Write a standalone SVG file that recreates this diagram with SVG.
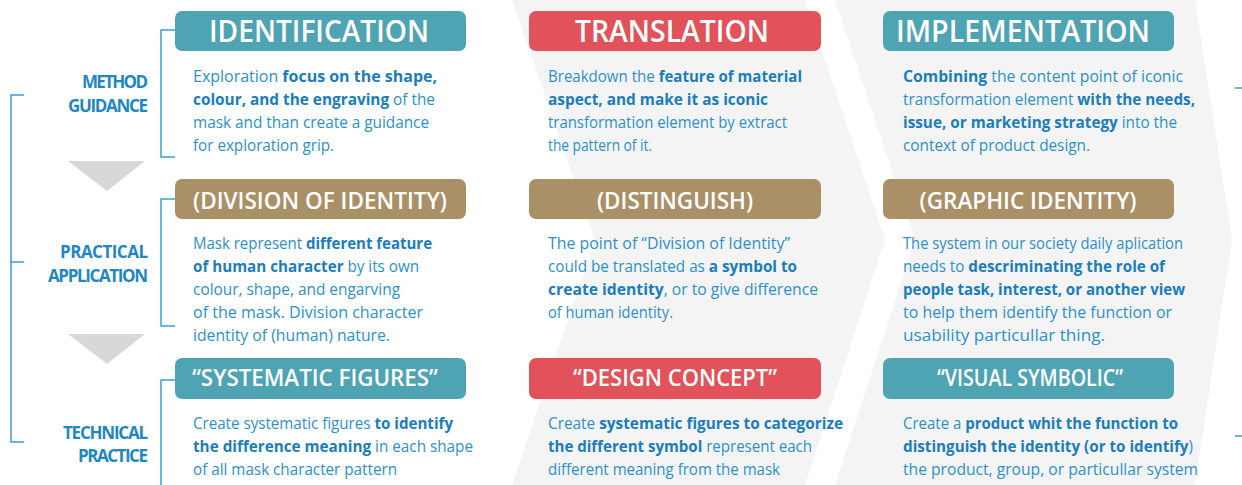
<svg xmlns="http://www.w3.org/2000/svg" width="1242" height="485" viewBox="0 0 1242 485">
<defs>
<style>
.bg{fill:#f4f4f5}
.br{fill:none;stroke:#3c9fcf;stroke-width:1.5}
.arr{fill:#d8d8d8}
.lbl{font-family:"Open Sans","Liberation Sans",sans-serif;font-weight:700;font-size:17px;fill:#1f87c3;text-anchor:end}
.hd{font-family:"Open Sans","Liberation Sans",sans-serif;font-weight:600;fill:#ffffff;text-anchor:middle}
.h1{font-size:30px}
.h2{font-size:24px}
.teal{fill:#4fa4b4}
.red{fill:#e1525a}
.tan{fill:#aa9067}
.tx{font-family:"Open Sans","Liberation Sans",sans-serif;font-size:16px;fill:#2b91c9}
.b{font-weight:700;fill:#1b7dbb}
</style>
</defs>
<rect width="1242" height="485" fill="#ffffff"/>
<g id="background">
<polygon class="bg" points="512,0 805,0 885,240 805,485 512,485 595,240"/>
<polygon class="bg" points="835,0 1195,0 1232,240 1195,485 835,485 915,240"/>
</g>
<g id="connectors">
<path class="br" d="M24,95 H11 V442 H24 M11,262 H24"/>
<path class="br" d="M175,30 H161 V157 H175"/>
<path class="br" d="M175,199 H161 V326 H175"/>
<path class="br" d="M175,380 H161 V485"/>
<path class="br" d="M1235,88 H1242 M1235,436 H1242"/>
<polygon class="arr" points="68,161 145,161 107,191"/>
<polygon class="arr" points="68,334 145,334 107,364"/>
</g>
<g id="label-method">
<text class="lbl" x="148" y="88" textLength="66">METHOD</text>
<text class="lbl" x="148" y="112" textLength="80">GUIDANCE</text>
</g>
<g id="label-practical">
<text class="lbl" x="148" y="258" textLength="88">PRACTICAL</text>
<text class="lbl" x="148" y="282" textLength="100">APPLICATION</text>
</g>
<g id="label-technical">
<text class="lbl" x="148" y="439" textLength="85">TECHNICAL</text>
<text class="lbl" x="148" y="462" textLength="70">PRACTICE</text>
</g>

<g id="identification">
<rect class="teal" x="175" y="11" width="291" height="40" rx="7"/>
<text class="hd h1" x="319" y="42" textLength="220" lengthAdjust="spacingAndGlyphs">IDENTIFICATION</text>
<text class="tx" x="193" y="82" textLength="244" lengthAdjust="spacingAndGlyphs">Exploration <tspan class="b">focus on the shape,</tspan></text>
<text class="tx" x="193" y="105" textLength="242" lengthAdjust="spacingAndGlyphs"><tspan class="b">colour, and the engraving</tspan> of the</text>
<text class="tx" x="193" y="128" textLength="236" lengthAdjust="spacingAndGlyphs">mask and than create a guidance</text>
<text class="tx" x="193" y="151" textLength="141" lengthAdjust="spacingAndGlyphs">for exploration grip.</text>
</g>

<g id="translation">
<rect class="red" x="529" y="11" width="292" height="40" rx="7"/>
<text class="hd h1" x="672" y="42" textLength="194" lengthAdjust="spacingAndGlyphs">TRANSLATION</text>
<text class="tx" x="548" y="82" textLength="254" lengthAdjust="spacingAndGlyphs">Breakdown the <tspan class="b">feature of material</tspan></text>
<text class="tx" x="548" y="105" textLength="220" lengthAdjust="spacingAndGlyphs"><tspan class="b">aspect, and make it as iconic</tspan></text>
<text class="tx" x="548" y="128" textLength="239" lengthAdjust="spacingAndGlyphs">transformation element by extract</text>
<text class="tx" x="548" y="151" textLength="104" lengthAdjust="spacingAndGlyphs">the pattern of it.</text>
</g>

<g id="implementation">
<rect class="teal" x="883" y="11" width="291" height="40" rx="7"/>
<text class="hd h1" x="1023" y="42" textLength="254" lengthAdjust="spacingAndGlyphs">IMPLEMENTATION</text>
<text class="tx" x="903" y="82" textLength="280" lengthAdjust="spacingAndGlyphs"><tspan class="b">Combining</tspan> the content point of iconic</text>
<text class="tx" x="903" y="105" textLength="292" lengthAdjust="spacingAndGlyphs">transformation element <tspan class="b">with the needs,</tspan></text>
<text class="tx" x="903" y="128" textLength="274" lengthAdjust="spacingAndGlyphs"><tspan class="b">issue, or marketing strategy</tspan> into the</text>
<text class="tx" x="903" y="151" textLength="187" lengthAdjust="spacingAndGlyphs">context of product design.</text>
</g>

<g id="division-of-identity">
<rect class="tan" x="175" y="179" width="291" height="40" rx="7"/>
<text class="hd h2" x="320" y="209" textLength="254" lengthAdjust="spacingAndGlyphs">(DIVISION OF IDENTITY)</text>
<text class="tx" x="193" y="249" textLength="239" lengthAdjust="spacingAndGlyphs">Mask represent <tspan class="b">different feature</tspan></text>
<text class="tx" x="193" y="272" textLength="226" lengthAdjust="spacingAndGlyphs"><tspan class="b">of human character</tspan> by its own</text>
<text class="tx" x="193" y="295" textLength="207" lengthAdjust="spacingAndGlyphs">colour, shape, and engarving</text>
<text class="tx" x="193" y="318" textLength="230" lengthAdjust="spacingAndGlyphs">of the mask. Division character</text>
<text class="tx" x="193" y="341" textLength="197" lengthAdjust="spacingAndGlyphs">identity of (human) nature.</text>
</g>

<g id="distinguish">
<rect class="tan" x="529" y="179" width="292" height="40" rx="7"/>
<text class="hd h2" x="675" y="209" textLength="156" lengthAdjust="spacingAndGlyphs">(DISTINGUISH)</text>
<text class="tx" x="548" y="249" textLength="242" lengthAdjust="spacingAndGlyphs">The point of “Division of Identity”</text>
<text class="tx" x="548" y="272" textLength="249" lengthAdjust="spacingAndGlyphs">could be translated as <tspan class="b">a symbol to</tspan></text>
<text class="tx" x="548" y="295" textLength="270" lengthAdjust="spacingAndGlyphs"><tspan class="b">create identity</tspan>, or to give difference</text>
<text class="tx" x="548" y="318" textLength="125" lengthAdjust="spacingAndGlyphs">of human identity.</text>
</g>

<g id="graphic-identity">
<rect class="tan" x="883" y="179" width="291" height="40" rx="7"/>
<text class="hd h2" x="1028" y="209" textLength="217" lengthAdjust="spacingAndGlyphs">(GRAPHIC IDENTITY)</text>
<text class="tx" x="903" y="249" textLength="280" lengthAdjust="spacingAndGlyphs">The system in our society daily aplication</text>
<text class="tx" x="903" y="272" textLength="262" lengthAdjust="spacingAndGlyphs">needs to <tspan class="b">descriminating the role of</tspan></text>
<text class="tx" x="903" y="295" textLength="282" lengthAdjust="spacingAndGlyphs"><tspan class="b">people task, interest, or another view</tspan></text>
<text class="tx" x="903" y="318" textLength="269" lengthAdjust="spacingAndGlyphs">to help them identify the function or</text>
<text class="tx" x="903" y="341" textLength="202" lengthAdjust="spacingAndGlyphs">usability particullar thing.</text>
</g>

<g id="systematic-figures">
<rect class="teal" x="175" y="358" width="291" height="41" rx="7"/>
<text class="hd h2" x="315" y="386" textLength="246" lengthAdjust="spacingAndGlyphs">“SYSTEMATIC FIGURES”</text>
<text class="tx" x="193" y="429" textLength="260" lengthAdjust="spacingAndGlyphs">Create systematic figures <tspan class="b">to identify</tspan></text>
<text class="tx" x="193" y="452" textLength="280" lengthAdjust="spacingAndGlyphs"><tspan class="b">the difference meaning</tspan> in each shape</text>
<text class="tx" x="193" y="475" textLength="204" lengthAdjust="spacingAndGlyphs">of all mask character pattern</text>
</g>

<g id="design-concept">
<rect class="red" x="529" y="358" width="292" height="41" rx="7"/>
<text class="hd h2" x="675" y="386" textLength="204" lengthAdjust="spacingAndGlyphs">“DESIGN CONCEPT”</text>
<text class="tx" x="548" y="429" textLength="295" lengthAdjust="spacingAndGlyphs">Create <tspan class="b">systematic figures to categorize</tspan></text>
<text class="tx" x="548" y="452" textLength="264" lengthAdjust="spacingAndGlyphs"><tspan class="b">the different symbol</tspan> represent each</text>
<text class="tx" x="548" y="475" textLength="232" lengthAdjust="spacingAndGlyphs">different meaning from the mask</text>
</g>

<g id="visual-symbolic">
<rect class="teal" x="883" y="358" width="291" height="41" rx="7"/>
<text class="hd h2" x="1030" y="386" textLength="186" lengthAdjust="spacingAndGlyphs">“VISUAL SYMBOLIC”</text>
<text class="tx" x="903" y="429" textLength="275" lengthAdjust="spacingAndGlyphs">Create a <tspan class="b">product whit the function to</tspan></text>
<text class="tx" x="903" y="452" textLength="290" lengthAdjust="spacingAndGlyphs"><tspan class="b">distinguish the identity (or to identify</tspan>)</text>
<text class="tx" x="903" y="475" textLength="295" lengthAdjust="spacingAndGlyphs">the product, group, or particullar system</text>
</g>
</svg>
